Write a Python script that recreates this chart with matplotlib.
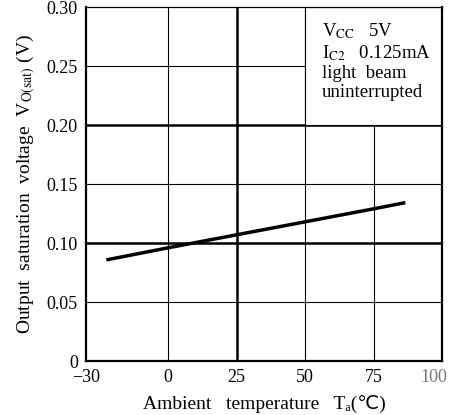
import matplotlib.pyplot as plt
from matplotlib.patches import Rectangle

plt.rcParams['font.family'] = ['Liberation Serif', 'DejaVu Sans', 'Noto Sans CJK SC']
plt.rcParams['mathtext.fontset'] = 'stix'

temp = [-22, 0, 25, 50, 75, 86]
vsat = [0.086, 0.096, 0.107, 0.118, 0.129, 0.134]
xticks = [-30, 0, 25, 50, 75, 100]
xlabels = ['\u221230', '0', '25', '50', '75', '100']
yticks = [0, 0.05, 0.10, 0.15, 0.20, 0.25, 0.30]
ylabels = ['0', '0.05', '0.10', '0.15', '0.20', '0.25', '0.30']

fig = plt.figure(figsize=(4.51, 4.15), dpi=100)
ax = fig.add_axes([0.191, 0.130, 0.789, 0.853])
ax.set_xlim(-30, 100)
ax.set_ylim(0, 0.30)

# grid, thick and thin lines
for x in [0, 50, 75]:
    ax.axvline(x, color='black', lw=0.8, zorder=1)
ax.axvline(25, color='black', lw=1.8, zorder=1)
for y in [0.05, 0.15, 0.25]:
    ax.axhline(y, color='black', lw=0.8, zorder=1)
for y in [0.10, 0.20]:
    ax.axhline(y, color='black', lw=1.8, zorder=1)

# condition box
ax.add_patch(Rectangle((50, 0.20), 50, 0.10, facecolor='white', edgecolor='black',
                       lw=0.8, zorder=2))
ax.text(56, 0.288, 'V$_{\\mathrm{CC}}$   5V\nI$_{\\mathrm{C2}}$   0.125mA\nlight  beam\nuninterrupted',
        fontsize=13.5, va='top', ha='left', linespacing=1.15, zorder=3)

ax.plot(temp, vsat, color='black', lw=2.5, zorder=4)

ax.set_xticks(xticks)
ax.set_xticklabels(xlabels[:-1] + [''])
# last tick label sits a little left of the right edge
ax.annotate(xlabels[-1], xy=(xticks[-1], 0), xytext=(-6, -6), textcoords='offset points',
            ha='center', va='top', fontsize=13, color='#777777')
ax.set_yticks(yticks)
ax.set_yticklabels(ylabels)
ax.tick_params(length=0, labelsize=13, pad=6)

for s in ['left', 'bottom', 'right']:
    ax.spines[s].set_linewidth(1.6)
ax.spines['top'].set_linewidth(0.9)

ax.set_xlabel('Ambient   temperature   T\u2090(\u2103)', fontsize=14, labelpad=6)
ax.set_ylabel('Output  saturation  voltage  V$_{\\mathrm{O(sat)}}$ (V)', fontsize=14, labelpad=6)

fig.savefig('out.png', dpi=100)
